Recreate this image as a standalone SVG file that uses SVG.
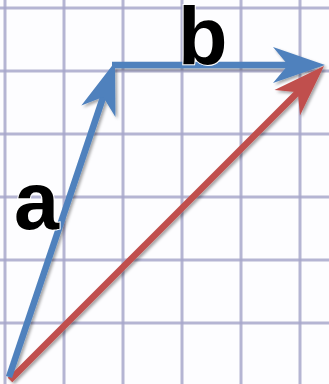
<svg xmlns="http://www.w3.org/2000/svg" width="329" height="384" viewBox="0 0 329 384">
  <defs>
    <style>
      .grid line { stroke: #a9a9cc; stroke-width: 3; opacity: 0.85; }
      .vec { fill: none; stroke-width: 6.5; stroke-linecap: butt; }
      .blue { stroke: #4f81bd; }
      .red { stroke: #c0504d; }
      .lbl { font-family: "Liberation Sans", Arial, sans-serif; font-weight: bold; font-size: 81px; fill: #000; stroke: #fff; stroke-width: 2; paint-order: stroke; }
    </style>
    <filter id="soft" x="-5%" y="-5%" width="110%" height="110%">
      <feGaussianBlur stdDeviation="0.6"/>
    </filter>
    <filter id="shadow" x="-10%" y="-10%" width="130%" height="130%">
      <feDropShadow dx="2" dy="2" stdDeviation="1.5" flood-color="#000" flood-opacity="0.35"/>
    </filter>
    <marker id="headBlue" markerUnits="userSpaceOnUse" viewBox="-54 -20 56 40" markerWidth="56" markerHeight="40" refX="-30" refY="0" orient="auto">
      <path d="M0,0 L-52,-18 L-37,0 L-52,18 Z" fill="#4f81bd"/>
    </marker>
    <marker id="headRed" markerUnits="userSpaceOnUse" viewBox="-54 -20 56 40" markerWidth="56" markerHeight="40" refX="-30" refY="0" orient="auto">
      <path d="M0,0 L-52,-18 L-37,0 L-52,18 Z" fill="#c0504d"/>
    </marker>
  </defs>
  <rect width="329" height="384" fill="#fdfdff"/>
  <g class="grid" filter="url(#soft)">
    <line x1="5" y1="0" x2="5" y2="384"/>
    <line x1="64" y1="0" x2="64" y2="384"/>
    <line x1="123" y1="0" x2="123" y2="384"/>
    <line x1="182" y1="0" x2="182" y2="384"/>
    <line x1="241" y1="0" x2="241" y2="384"/>
    <line x1="300" y1="0" x2="300" y2="384"/>
    <line x1="0" y1="8" x2="329" y2="8"/>
    <line x1="0" y1="71" x2="329" y2="71"/>
    <line x1="0" y1="134" x2="329" y2="134"/>
    <line x1="0" y1="197" x2="329" y2="197"/>
    <line x1="0" y1="260" x2="329" y2="260"/>
    <line x1="0" y1="323" x2="329" y2="323"/>
  </g>
  <g id="connectors" filter="url(#shadow)">
    <line id="vec-sum" class="vec red" x1="10" y1="380" x2="302.8" y2="87.2" marker-end="url(#headRed)"/>
    <line id="vec-b" class="vec blue" x1="112" y1="65" x2="295" y2="65" marker-end="url(#headBlue)"/>
    <line id="vec-a" class="vec blue" x1="9" y1="377" x2="105.4" y2="90.4" marker-end="url(#headBlue)"/>
  </g>
  <g id="label-a">
    <text class="lbl" x="14" y="229">a</text>
  </g>
  <g id="label-b">
    <text class="lbl" x="178" y="64">b</text>
  </g>
</svg>
